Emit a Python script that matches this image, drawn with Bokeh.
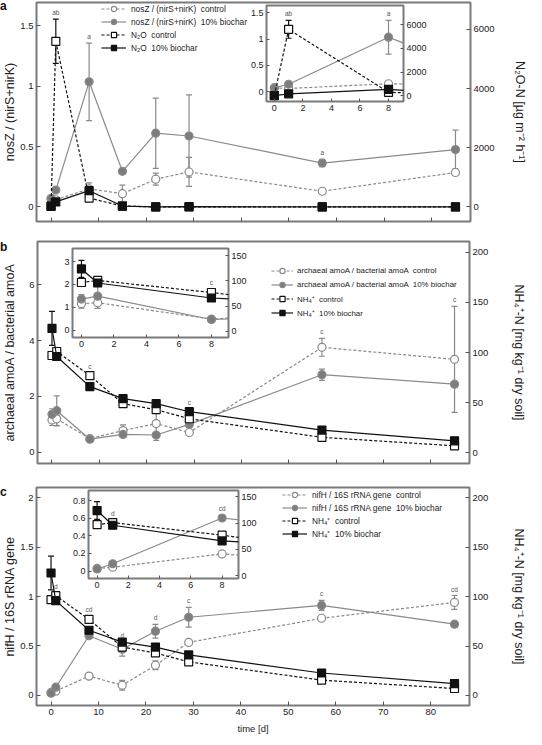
from bokeh.plotting import figure
from bokeh.models import (ColumnDataSource, Range1d, LinearAxis, FixedTicker,
                          NumeralTickFormatter, Whisker, TeeHead, Legend, LegendItem,
                          GridBox, Div)
from bokeh.layouts import column
from bokeh.embed import file_html
from bokeh.resources import INLINE
from bokeh.core.properties import value

FONT = "Liberation Sans"
GREY = "#8a8a8a"
GREY_FILL = "#7d7d7d"
BLACK = "#111111"
FRAME = "#7a7a7a"

# ---------------- data ----------------
days = [0, 1, 8, 15, 22, 29, 57, 85]
x_ticks = [0, 10, 20, 30, 40, 50, 60, 70, 80]
inset_x_ticks = [0, 2, 4, 6, 8]

# panel a
nosz_ctrl = [0.07, 0.06, 0.15, 0.11, 0.23, 0.29, 0.13, 0.285]
nosz_ctrl_err = [0, 0, 0.05, 0.07, 0.05, 0.12, 0, 0]
nosz_bc = [0.07, 0.14, 1.035, 0.295, 0.61, 0.587, 0.363, 0.475]
nosz_bc_err = [0, 0, 0.32, 0.02, 0.29, 0.34, 0.03, 0.16]
n2o_ctrl = [30, 5600, 300, 30, 0, 0, 0, 0]
n2o_ctrl_err = [0, 750, 0, 0, 0, 0, 0, 0]
n2o_bc = [20, 170, 550, 30, 0, 10, 0, 0]
n2o_bc_err = [0, 0, 0, 0, 0, 0, 0, 0]
a_left_ticks = [0, 0.5, 1, 1.5]
a_right_ticks = [0, 2000, 4000, 6000]

# panel b
arch_ctrl = [1.16, 1.2, 0.49, 0.78, 1.03, 0.71, 3.76, 3.33]
arch_ctrl_err = [0.2, 0.25, 0, 0.2, 0.6, 0, 0.32, 1.9]
arch_bc = [1.36, 1.49, 0.47, 0.64, 0.62, 1.0, 2.78, 2.44]
arch_bc_err = [0.2, 0.53, 0, 0, 0, 0, 0.2, 0]
b_left_ticks = [0, 2, 4, 6]
b_inset_left_ticks = [0, 1, 2, 3]

# NH4+ (panels b and c)
nh4_ctrl = [97, 101, 77, 49, 43, 34, 15.5, 7]
nh4_ctrl_err = [0, 0, 0, 0, 0, 0, 0, 0]
nh4_bc = [124, 96, 66, 54, 49, 41, 22.7, 12]
nh4_bc_err = [17, 3, 0, 0, 3, 0, 0, 0]
nh4_ticks = [0, 50, 100, 150, 200]
nh4_inset_ticks = [0, 50, 100, 150]

# panel c
nifh_ctrl = [0.03, 0.043, 0.195, 0.103, 0.305, 0.536, 0.78, 0.94]
nifh_ctrl_err = [0, 0, 0, 0.05, 0.045, 0, 0, 0.07]
nifh_bc = [0.023, 0.083, 0.603, 0.467, 0.649, 0.79, 0.91, 0.72]
nifh_bc_err = [0, 0, 0, 0.07, 0.07, 0.1, 0.05, 0.02]
c_left_ticks = [0, 0.5, 1, 1.5, 2]
c_inset_left_ticks = [0, 0.2, 0.4, 0.6, 0.8]

STYLES = {
    "ctrl_grey": dict(color=GREY, dash="3 2", marker="circle", fill="white"),
    "bc_grey": dict(color=GREY, dash="solid", marker="circle", fill=GREY_FILL),
    "ctrl_black": dict(color=BLACK, dash="3 2", marker="square", fill="white"),
    "bc_black": dict(color=BLACK, dash="solid", marker="square", fill=BLACK),
}


def style_axis(ax, size="9.5px", standoff=3, tick_in=4):
    ax.axis_line_color = None
    ax.major_tick_in = tick_in
    ax.major_tick_out = 0
    ax.minor_tick_line_color = None
    ax.major_tick_line_color = "#555555"
    ax.major_label_text_font = FONT
    ax.major_label_text_font_size = size
    ax.major_label_text_color = "#222222"
    ax.major_label_standoff = standoff
    ax.axis_label_text_font = FONT
    ax.axis_label_text_font_size = "12.5px"
    ax.axis_label_text_font_style = "normal"
    ax.axis_label_text_color = "#222222"


def draw(p, y, err, style, rng, xmax=None, msize=8):
    st = STYLES[style]
    src = ColumnDataSource(dict(x=days, y=y))
    ln = p.line("x", "y", source=src, line_color=st["color"], line_width=1.2,
                line_dash=st["dash"], y_range_name=rng)
    idx = [i for i in range(len(days)) if err[i] > 0 and (xmax is None or days[i] <= xmax)]
    if idx:
        wsrc = ColumnDataSource(dict(x=[days[i] for i in idx],
                                     lo=[y[i] - err[i] for i in idx],
                                     hi=[y[i] + err[i] for i in idx]))
        w = Whisker(source=wsrc, base="x", lower="lo", upper="hi", dimension="height",
                    line_color=st["color"], line_width=1.2, y_range_name=rng,
                    upper_head=TeeHead(size=6, line_color=st["color"], line_width=1.2),
                    lower_head=TeeHead(size=6, line_color=st["color"], line_width=1.2))
        p.add_layout(w)
    sc = p.scatter("x", "y", source=src, marker=st["marker"], size=msize,
                   fill_color=st["fill"], line_color=st["color"], line_width=1.2,
                   y_range_name=rng)
    return ln, sc


def letters(p, items):
    for txt, day, rng, ser, err in items:
        i = days.index(day)
        off = -3 if err[i] > 0 else -6
        p.text(x=[day], y=[ser[i] + err[i]], text=[txt], text_font=value(FONT),
               text_font_size="6.5px", text_color="#555555", text_align="center",
               text_baseline="bottom", y_offset=off, y_range_name=rng)


MB_RIGHT = 54


def make_main(frame_h, top, bottom, yl, yr, lt, rt, llab, rlab, l_so, r_so, xlabels):
    p = figure(frame_width=443, frame_height=frame_h, x_range=Range1d(-3.06, 88.16),
               y_range=Range1d(*yl), min_border_left=32, min_border_right=MB_RIGHT,
               min_border_top=top, min_border_bottom=bottom, toolbar_location=None,
               output_backend="svg", outline_line_color=FRAME, outline_line_width=2,
               background_fill_color="white", border_fill_color="white")
    p.extra_y_ranges = {"right": Range1d(*yr)}
    p.xgrid.visible = False
    p.ygrid.visible = False
    xa = p.xaxis[0]
    la = p.yaxis[0]
    ra = LinearAxis(y_range_name="right")
    p.add_layout(ra, "right")
    for ax in (xa, la, ra):
        style_axis(ax)
    xa.ticker = FixedTicker(ticks=x_ticks)
    la.ticker = FixedTicker(ticks=lt)
    ra.ticker = FixedTicker(ticks=rt)
    la.formatter = NumeralTickFormatter(format="0.[0]")
    ra.formatter = NumeralTickFormatter(format="0")
    la.axis_label = llab
    ra.axis_label = rlab
    la.axis_label_standoff = l_so
    ra.axis_label_standoff = r_so
    if xlabels:
        xa.axis_label = "time [d]"
        xa.axis_label_text_font_size = "9.5px"
        xa.axis_label_standoff = 5
    else:
        xa.major_label_text_font_size = "1px"
        xa.major_label_text_color = None
    return p


def make_inset(fw, fh, yl, yr, lt, rt):
    p = figure(frame_width=fw, frame_height=fh, x_range=Range1d(-0.55, 9.05),
               y_range=Range1d(*yl), min_border_left=20, min_border_right=28,
               min_border_top=2, min_border_bottom=16, toolbar_location=None,
               output_backend="svg", outline_line_color=FRAME, outline_line_width=2,
               background_fill_color="white", border_fill_color=None)
    p.extra_y_ranges = {"right": Range1d(*yr)}
    p.xgrid.visible = False
    p.ygrid.visible = False
    xa = p.xaxis[0]
    la = p.yaxis[0]
    ra = LinearAxis(y_range_name="right")
    p.add_layout(ra, "right")
    for ax in (xa, la, ra):
        style_axis(ax, size="9px", standoff=3, tick_in=3)
    xa.ticker = FixedTicker(ticks=inset_x_ticks)
    la.ticker = FixedTicker(ticks=lt)
    ra.ticker = FixedTicker(ticks=rt)
    la.formatter = NumeralTickFormatter(format="0.[0]")
    ra.formatter = NumeralTickFormatter(format="0")
    return p


def add_legend(p, entries, vx, vy, spacing, size="8.3px", gw=25, so=5):
    items = [LegendItem(label=lab, renderers=list(r)) for lab, r in entries]
    lg = Legend(items=items, location=(vx, vy), orientation="vertical",
                label_text_font=FONT, label_text_font_size=size, label_text_color="#222222",
                label_height=13, glyph_height=13, glyph_width=gw, label_standoff=so,
                spacing=spacing, padding=0, margin=0, border_line_color=None,
                background_fill_alpha=0)
    p.add_layout(lg)


def panel_letter(txt, top):
    return Div(text=txt, width=14, height=14, margin=(top, 0, 0, 0),
               styles={"font-family": FONT, "font-size": "12px", "font-weight": "bold",
                       "line-height": "1", "color": "#111111"})


def panel_grid(main, inset, letter, ix, iy, mw, mh, iw, ih):
    return GridBox(children=[(main, 0, 0, 3, 3), (inset, 1, 1, 1, 1), (letter, 0, 0, 2, 1)],
                   cols=[f"{ix}px", f"{iw}px", f"{mw - ix - iw}px"],
                   rows=[f"{iy}px", f"{ih}px", f"{mh - iy - ih}px"])


MW = 32 + 443 + MB_RIGHT

# ---------------- panel a ----------------
pa = make_main(219, 2, 10, (-0.120, 1.691), (-492, 6911), a_left_ticks, a_right_ticks,
               "nosZ / (nirS+nirK)", "N\u2082O-N [\u00b5g m\u207b\u00b2 h\u207b\u00b9]", 0, 15, False)
ra1 = draw(pa, nosz_ctrl, nosz_ctrl_err, "ctrl_grey", "default")
ra2 = draw(pa, nosz_bc, nosz_bc_err, "bc_grey", "default")
ra3 = draw(pa, n2o_ctrl, n2o_ctrl_err, "ctrl_black", "right")
ra4 = draw(pa, n2o_bc, n2o_bc_err, "bc_black", "right")
letters(pa, [("ab", 1, "right", n2o_ctrl, n2o_ctrl_err),
             ("a", 8, "default", nosz_bc, nosz_bc_err),
             ("a", 57, "default", nosz_bc, nosz_bc_err)])
add_legend(pa, [("nosZ / (nirS+nirK)  control", ra1), ("nosZ / (nirS+nirK)  10% biochar", ra2),
                ("N\u2082O  control", ra3), ("N\u2082O  10% biochar", ra4)], 65, 167, 0)

ia = make_inset(137, 96, (-0.188, 1.638), (-475, 7608), a_left_ticks, a_right_ticks)
draw(ia, nosz_ctrl, nosz_ctrl_err, "ctrl_grey", "default", xmax=9)
draw(ia, nosz_bc, nosz_bc_err, "bc_grey", "default", xmax=9)
draw(ia, n2o_ctrl, n2o_ctrl_err, "ctrl_black", "right", xmax=9)
draw(ia, n2o_bc, n2o_bc_err, "bc_black", "right", xmax=9)
letters(ia, [("ab", 1, "right", n2o_ctrl, n2o_ctrl_err),
             ("a", 8, "default", nosz_bc, nosz_bc_err)])
ga = panel_grid(pa, ia, panel_letter("a", 0), 246, 3, MW, 231, 20 + 137 + 28, 2 + 96 + 16)

# ---------------- panel b ----------------
pb = make_main(222, 10, 12, (-0.40, 7.55), (-10.6, 210.6), b_left_ticks, nh4_ticks,
               "archaeal amoA / bacterial amoA", "NH\u2084\u207a-N [mg kg\u207b\u00b9 dry soil]", 9, 21, False)
rb1 = draw(pb, arch_ctrl, arch_ctrl_err, "ctrl_grey", "default")
rb2 = draw(pb, arch_bc, arch_bc_err, "bc_grey", "default")
rb3 = draw(pb, nh4_ctrl, nh4_ctrl_err, "ctrl_black", "right")
rb4 = draw(pb, nh4_bc, nh4_bc_err, "bc_black", "right")
letters(pb, [("c", 8, "right", nh4_ctrl, nh4_ctrl_err),
             ("c", 29, "right", nh4_bc, nh4_bc_err),
             ("c", 57, "default", arch_ctrl, arch_ctrl_err),
             ("c", 85, "default", arch_ctrl, arch_ctrl_err)])
add_legend(pb, [("archaeal amoA / bacterial amoA  control", rb1),
                ("archaeal amoA / bacterial amoA  10% biochar", rb2),
                ("NH\u2084\u207a  control", rb3), ("NH\u2084\u207a  10% biochar", rb4)],
           234, 144, 1, size="7.9px", gw=22, so=4)

ib = make_inset(156, 89, (-0.317, 3.57), (-12.8, 164.8), b_inset_left_ticks, nh4_inset_ticks)
draw(ib, arch_ctrl, arch_ctrl_err, "ctrl_grey", "default", xmax=9)
draw(ib, arch_bc, arch_bc_err, "bc_grey", "default", xmax=9)
draw(ib, nh4_ctrl, nh4_ctrl_err, "ctrl_black", "right", xmax=9)
draw(ib, nh4_bc, nh4_bc_err, "bc_black", "right", xmax=9)
letters(ib, [("c", 8, "right", nh4_ctrl, nh4_ctrl_err)])
gb = panel_grid(pb, ib, panel_letter("b", 10), 52, 15, MW, 244, 20 + 156 + 28, 2 + 89 + 16)

# ---------------- panel c ----------------
pc = make_main(219, 12, 30, (-0.102, 2.102), (-10.2, 210.6), c_left_ticks, nh4_ticks,
               "nifH / 16S rRNA gene", "NH\u2084\u207a-N [mg kg\u207b\u00b9 dry soil]", 0, 21, True)
rc1 = draw(pc, nifh_ctrl, nifh_ctrl_err, "ctrl_grey", "default")
rc2 = draw(pc, nifh_bc, nifh_bc_err, "bc_grey", "default")
rc3 = draw(pc, nh4_ctrl, nh4_ctrl_err, "ctrl_black", "right")
rc4 = draw(pc, nh4_bc, nh4_bc_err, "bc_black", "right")
letters(pc, [("d", 1, "right", nh4_ctrl, nh4_ctrl_err),
             ("cd", 8, "right", nh4_ctrl, nh4_ctrl_err),
             ("d", 15, "default", nifh_bc, nifh_bc_err),
             ("d", 22, "default", nifh_bc, nifh_bc_err),
             ("c", 29, "default", nifh_bc, nifh_bc_err),
             ("c", 57, "default", nifh_bc, nifh_bc_err),
             ("cd", 85, "default", nifh_ctrl, nifh_ctrl_err)])
add_legend(pc, [("nifH / 16S rRNA gene  control", rc1), ("nifH / 16S rRNA gene  10% biochar", rc2),
                ("NH\u2084\u207a  control", rc3), ("NH\u2084\u207a  10% biochar", rc4)], 246, 165, 0)

ic = make_inset(150, 88, (-0.085, 0.916), (-5.7, 162.3), c_inset_left_ticks, nh4_inset_ticks)
draw(ic, nifh_ctrl, nifh_ctrl_err, "ctrl_grey", "default", xmax=9)
draw(ic, nifh_bc, nifh_bc_err, "bc_grey", "default", xmax=9)
draw(ic, nh4_ctrl, nh4_ctrl_err, "ctrl_black", "right", xmax=9)
draw(ic, nh4_bc, nh4_bc_err, "bc_black", "right", xmax=9)
letters(ic, [("d", 1, "right", nh4_ctrl, nh4_ctrl_err),
             ("cd", 8, "default", nifh_bc, nifh_bc_err)])
gc = panel_grid(pc, ic, panel_letter("c", 11), 68, 13, MW, 261, 20 + 150 + 28, 2 + 88 + 16)

layout = column(ga, gb, gc)
open("out.html", "w").write(file_html(layout, INLINE))
